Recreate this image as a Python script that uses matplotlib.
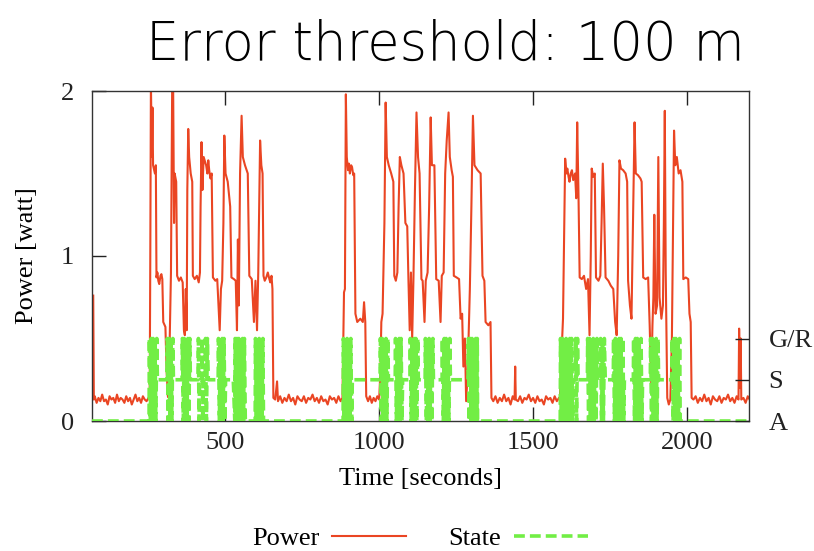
import matplotlib.pyplot as plt

# power trace, (time [s], power [W]), one list per stretch
idle_1 = [(74, .76), (76, .13), (79, .15), (85, .11), (91, .14), (97, .12), (103, .16),
          (109, .12), (115, .13), (121, .10), (127, .15), (133, .13), (139, .14), (145, .11),
          (151, .16), (157, .12), (163, .14), (169, .13), (175, .11), (181, .15), (187, .12),
          (193, .14), (199, .10), (205, .13), (211, .16), (217, .12), (223, .14), (229, .11),
          (235, .15), (241, .13), (247, .12), (253, .14)]
burst_1 = [(257, .14), (259, 1.0), (261, 2.05), (264, 1.6), (266, 1.9), (268, 1.55), (274, 1.5),
           (277, 1.55), (279, .87), (282, .9), (285, .85), (288, .83), (292, .88), (295, .89),
           (298, .86), (301, .6), (308, .57),
           (312, .3), (316, .15), (319, .14), (322, .5), (326, .9), (330, 2.05), (333, 2.05),
           (336, 1.2), (338, 1.5), (343, 1.45), (346, .88), (352, .85), (358, .87), (364, .84),
           (368, .55), (371, .52), (374, .8), (377, .55), (379, 1.4), (382, 1.77), (385, 1.6),
           (390, 1.5), (395, 1.45), (397, .88), (403, .86), (410, .88), (416, .84), (420, .9),
           (422, 1.3), (425, 1.69), (428, 1.4), (432, 1.6), (440, 1.55), (444, 1.5), (447, 1.58),
           (450, 1.52), (454, 1.47), (458, 1.5),
           (462, .87), (470, .85), (476, .86), (480, .7), (484, .55), (488, .8), (492, .85),
           (496, 1.2), (499, 1.73), (503, 1.5), (510, 1.45), (518, 1.3), (522, .87), (530, .86),
           (536, .85), (540, .55), (543, 1.1), (546, .7), (550, 1.5), (555, 1.85), (559, 1.6),
           (566, 1.55), (575, 1.5), (580, .88), (588, .86), (595, .6), (600, .85), (605, .55),
           (609, .9), (612, 1.3), (615, 1.7), (619, 1.55), (623, 1.5), (626, .88), (630, .85),
           (635, .87), (640, .9), (645, .86), (648, .84), (652, .88), (655, .8), (658, .14)]
idle_2 = [(664, .13), (670, .24), (673, .12), (680, .15), (687, .11), (694, .14), (701, .12),
          (708, .16), (715, .12), (722, .14), (729, .10), (736, .15), (743, .13), (750, .12),
          (757, .15), (764, .11), (771, .14), (778, .13), (785, .16), (792, .12), (799, .14),
          (806, .11), (813, .15), (820, .12), (827, .13), (834, .10), (841, .15), (848, .13),
          (855, .14), (862, .11), (869, .15), (876, .12), (882, .14)]
burst_2a = [(887, .78), (890, .8), (893, 1.98), (896, 1.6), (900, 1.52), (903, 1.56), (906, 1.5),
            (910, 1.55), (913, 1.54), (917, 1.49), (920, 1.5),
            (924, .65), (930, .6), (940, .62), (948, .6), (952, .72), (956, .6), (959, .15)]
idle_3 = [(965, .12), (971, .15), (977, .11), (983, .14), (989, .12), (995, .15), (1001, .13)]
burst_2b = [(1005, .3), (1008, .6), (1012, .65), (1018, 1.2), (1022, 1.93), (1026, 1.6),
            (1032, 1.55), (1040, 1.5), (1047, 1.45), (1050, .88), (1055, .85), (1060, .9),
            (1064, 1.3), (1068, 1.6), (1073, 1.55), (1080, 1.5), (1086, 1.2), (1092, 1.18),
            (1096, .85), (1100, .55), (1104, .9), (1108, .5), (1112, .85), (1117, 1.4),
            (1122, 1.87), (1127, 1.6), (1132, 1.5), (1138, .86), (1142, .85), (1148, .6),
            (1152, .85), (1158, .9), (1163, 1.3), (1168, 1.84), (1172, 1.55), (1180, 1.55),
            (1186, .86), (1194, .85), (1200, .6), (1204, .88), (1210, .9), (1215, 1.5),
            (1220, 1.7), (1226, 1.87), (1230, 1.6), (1236, 1.52), (1240, 1.48), (1243, .88),
            (1252, .87), (1260, .86), (1265, .62), (1270, .65), (1274, .33), (1279, .5),
            (1283, .12), (1288, .3), (1295, .8), (1300, 1.3), (1305, 1.85), (1310, 1.55),
            (1320, 1.52), (1330, 1.5), (1336, .88), (1342, .85), (1346, .6), (1355, .58),
            (1362, .6), (1365, .14)]
idle_4 = [(1371, .12), (1378, .15), (1385, .11), (1392, .14), (1399, .12), (1406, .16),
          (1413, .12), (1420, .14), (1427, .10), (1434, .15), (1440, .13), (1442, .33),
          (1444, .13), (1451, .12), (1458, .15), (1465, .11), (1472, .14), (1479, .13),
          (1486, .16), (1493, .12), (1500, .14), (1507, .11), (1514, .15), (1521, .12),
          (1528, .13), (1535, .10), (1542, .15), (1549, .13), (1556, .14), (1563, .11),
          (1570, .15), (1577, .12), (1584, .14)]
burst_3 = [(1587, .14), (1592, .4), (1597, .62), (1601, 1.2), (1604, 1.59), (1608, 1.5),
           (1611, 1.53), (1615, 1.48), (1618, 1.45), (1622, 1.5), (1626, 1.52), (1630, 1.46),
           (1636, 1.5), (1640, 1.35), (1643, 1.81),
           (1647, 1.4), (1651, .87), (1658, .86), (1665, .88), (1672, .8), (1678, .86),
           (1683, .52), (1687, 1.0), (1690, 1.53), (1695, 1.48), (1700, 1.5), (1704, .87),
           (1712, .85), (1718, .88), (1722, 1.2), (1726, 1.56), (1730, 1.3), (1735, .87),
           (1744, .85), (1752, .82), (1760, .8), (1766, .6), (1771, .52), (1776, 1.0),
           (1780, 1.58), (1785, 1.53), (1792, 1.52), (1800, 1.5), (1805, 1.45), (1808, .85),
           (1814, .7), (1819, .62), (1824, 1.2), (1829, 1.81), (1833, 1.5), (1840, 1.49),
           (1848, 1.47), (1852, 1.45), (1857, .87), (1865, .86), (1873, .87), (1878, .58),
           (1883, .22), (1887, .58), (1890, .75), (1893, 1.25), (1897, .65), (1902, .7),
           (1906, 1.6), (1910, .75), (1916, .62), (1921, .7), (1924, 1.2), (1927, 1.88),
           (1930, .9), (1935, .14), (1940, .1), (1945, .13), (1950, .5), (1954, 1.2),
           (1957, 1.76), (1961, 1.55), (1966, 1.6), (1972, 1.5), (1978, 1.52), (1984, 1.45),
           (1987, .86), (1995, .87), (2003, .86), (2007, .65), (2011, .6), (2014, .14)]
idle_5 = [(2020, .13), (2027, .15), (2034, .11), (2041, .14), (2048, .12), (2055, .16),
          (2062, .12), (2069, .14), (2076, .10), (2083, .15), (2090, .13), (2097, .12),
          (2104, .15), (2111, .11), (2118, .14), (2125, .13), (2132, .16), (2139, .12),
          (2146, .14), (2153, .11), (2160, .15), (2166, .13), (2168, .56), (2171, .2),
          (2173, .5), (2175, .13), (2182, .14), (2189, .11), (2196, .15), (2202, .13)]

# radio state changes (time [s], state): A = active, S = sleep, G = get/release
state_changes = [
    (70, 'A'), (255, 'A'),
    (256, 'G'), (259, 'A'), (262, 'G'), (265, 'A'), (268, 'G'), (271, 'A'), (274, 'G'), (277, 'A'), (280, 'G'), (282, 'S'),
    (313, 'S'), (314, 'G'), (317, 'A'), (320, 'G'), (323, 'A'), (326, 'G'), (329, 'A'), (332, 'G'), (334, 'S'),
    (362, 'S'), (363, 'G'), (366, 'A'), (369, 'G'), (372, 'A'), (375, 'G'), (378, 'A'), (381, 'G'), (384, 'A'), (387, 'G'), (389, 'S'),
    (414, 'S'), (415, 'G'), (417, 'A'), (419, 'S'),
    (426, 'S'), (427, 'G'), (429, 'A'), (431, 'S'),
    (437, 'S'), (438, 'G'), (441, 'A'), (444, 'G'), (447, 'S'),
    (479, 'S'), (480, 'G'), (483, 'A'), (486, 'G'), (489, 'A'), (492, 'G'), (495, 'A'), (498, 'G'), (501, 'A'), (503, 'S'),
    (528, 'S'), (533, 'A'),
    (534, 'G'), (537, 'A'), (540, 'G'), (543, 'A'), (546, 'G'), (549, 'A'), (552, 'G'), (555, 'A'), (558, 'G'), (561, 'A'), (564, 'G'), (567, 'A'),
    (599, 'A'), (600, 'G'), (603, 'A'), (606, 'G'), (609, 'A'), (612, 'G'), (615, 'A'), (618, 'G'), (621, 'A'), (624, 'G'), (626, 'A'),
    (884, 'A'), (885, 'G'), (888, 'A'), (891, 'G'), (894, 'A'), (897, 'G'), (900, 'A'), (903, 'G'), (906, 'A'), (909, 'G'), (912, 'A'), (914, 'S'),
    (1004, 'S'), (1005, 'G'), (1008, 'A'), (1011, 'G'), (1014, 'A'), (1017, 'G'), (1020, 'A'), (1023, 'G'), (1026, 'A'), (1029, 'G'), (1031, 'S'),
    (1053, 'S'), (1054, 'G'), (1057, 'A'), (1060, 'G'), (1063, 'A'), (1066, 'G'), (1069, 'A'), (1072, 'G'), (1075, 'A'), (1077, 'S'),
    (1101, 'S'), (1102, 'G'), (1105, 'A'), (1108, 'G'), (1111, 'A'), (1114, 'G'), (1117, 'A'), (1120, 'G'), (1123, 'A'), (1126, 'G'), (1128, 'S'),
    (1150, 'S'), (1151, 'G'), (1154, 'A'), (1157, 'G'), (1160, 'A'), (1163, 'G'), (1166, 'A'), (1169, 'G'), (1172, 'A'), (1175, 'G'), (1177, 'S'),
    (1205, 'S'), (1206, 'G'), (1209, 'A'), (1212, 'G'), (1215, 'A'), (1218, 'G'), (1221, 'A'), (1224, 'G'), (1227, 'A'), (1230, 'G'), (1232, 'S'),
    (1289, 'S'), (1290, 'G'), (1293, 'A'), (1296, 'G'), (1299, 'A'), (1302, 'G'), (1305, 'A'), (1308, 'G'), (1311, 'A'), (1314, 'G'), (1317, 'A'), (1319, 'G'), (1320, 'A'),
    (1588, 'A'), (1589, 'G'), (1592, 'A'), (1595, 'G'), (1598, 'A'), (1601, 'G'), (1604, 'A'), (1607, 'G'), (1610, 'A'), (1613, 'G'), (1616, 'A'), (1619, 'G'), (1622, 'A'), (1625, 'G'), (1628, 'A'), (1630, 'S'),
    (1637, 'S'), (1638, 'G'), (1641, 'A'), (1644, 'G'), (1646, 'S'),
    (1676, 'S'), (1677, 'G'), (1680, 'A'), (1683, 'G'), (1686, 'A'), (1689, 'G'), (1692, 'A'), (1695, 'G'), (1698, 'A'), (1701, 'G'), (1704, 'A'), (1707, 'G'), (1709, 'S'),
    (1718, 'S'), (1719, 'G'), (1722, 'A'), (1725, 'G'), (1728, 'A'), (1731, 'G'), (1734, 'S'),
    (1760, 'S'), (1761, 'G'), (1764, 'A'), (1767, 'G'), (1770, 'A'), (1773, 'G'), (1776, 'A'), (1779, 'G'), (1782, 'A'), (1785, 'G'), (1788, 'A'), (1791, 'G'), (1794, 'A'), (1796, 'S'),
    (1825, 'S'), (1826, 'G'), (1829, 'A'), (1832, 'G'), (1835, 'A'), (1838, 'G'), (1841, 'A'), (1844, 'G'), (1847, 'A'), (1850, 'G'), (1853, 'A'), (1855, 'S'),
    (1880, 'S'), (1881, 'G'), (1884, 'A'), (1887, 'G'), (1890, 'A'), (1893, 'G'), (1896, 'A'), (1899, 'G'), (1902, 'A'), (1905, 'G'), (1907, 'S'),
    (1950, 'S'), (1951, 'G'), (1954, 'A'), (1957, 'G'), (1960, 'A'), (1963, 'G'), (1966, 'A'), (1969, 'G'), (1972, 'A'), (1975, 'G'), (1977, 'A'),
    (2202, 'A'),
]
state_levels = {'A': 0.0, 'S': 0.25, 'G': 0.5}
state_ticks = [0.0, 0.25, 0.5]
state_labels = ['A', 'S', 'G/R']
x_ticks = [500, 1000, 1500, 2000]
y_ticks = [0, 1, 2]

power = idle_1 + burst_1 + idle_2 + burst_2a + idle_3 + burst_2b + idle_4 + burst_3 + idle_5
power_t = [p[0] for p in power]
power_w = [p[1] for p in power]
state_t = [s[0] for s in state_changes]
state_v = [state_levels[s[1]] for s in state_changes]

plt.rcParams['font.family'] = ['Liberation Serif', 'DejaVu Serif']

fig = plt.figure(figsize=(8.14, 5.51), dpi=100)
ax = fig.add_axes([92 / 814, 1 - 421 / 551, 657 / 814, 330 / 551])

ax.plot(power_t, power_w, color='#ea4523', linewidth=1.5, label='Power', zorder=2)
ax.plot(state_t, state_v, color='#72ee45', linewidth=2.6, dashes=(3, 1.4),
        label='State', zorder=3)

ax.set_xlim(70, 2200)
ax.set_ylim(0, 2)
ax.set_xticks(x_ticks)
ax.set_yticks(y_ticks)
ax.tick_params(direction='in', length=10, width=1, top=True, right=True,
               labelsize=19, colors='#222222')
ax.tick_params(axis='y', pad=13)
ax.tick_params(axis='x', pad=8)
for sp in ax.spines.values():
    sp.set_color('#333333')
    sp.set_linewidth(1)

ax2 = ax.twinx()
ax2.set_ylim(0, 2)
ax2.set_yticks(state_ticks)
ax2.set_yticklabels(state_labels)
ax2.tick_params(direction='in', length=10, width=1, labelsize=19, pad=14, colors='#222222')
for sp in ax2.spines.values():
    sp.set_visible(False)

ax.set_xlabel('Time [seconds]', fontsize=19, labelpad=10)
ax.set_ylabel('Power [watt]', fontsize=19, labelpad=16)

ax.legend(loc='center', bbox_to_anchor=(420 / 814, 1 - 538 / 551), bbox_transform=fig.transFigure,
          ncol=2, frameon=False, markerfirst=False, fontsize=19, handlelength=2.8,
          handletextpad=0.5, columnspacing=1.6)

fig.text(445 / 814, 1 - 60 / 551, 'Error threshold: 100 m', ha='center', va='baseline',
         fontsize=38, family='DejaVu Sans', fontweight='light', color='black')

fig.savefig('out.png', dpi=100)
